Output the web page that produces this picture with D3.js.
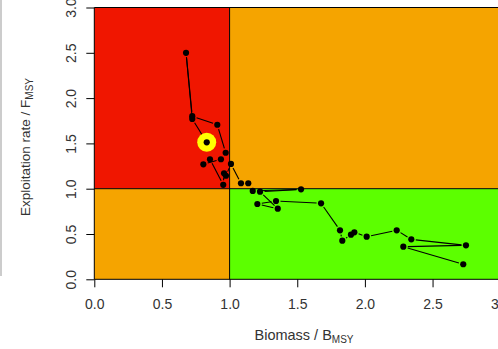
<!DOCTYPE html>
<html>
<head>
<meta charset="utf-8">
<script src="https://cdn.jsdelivr.net/npm/d3@7"></script>
<style>
  body { margin: 0; background: #fff; }
  svg { display: block; }
  text { font-family: "Liberation Sans", Arial, sans-serif; fill: #333; }
</style>
</head>
<body>
<div id="app"></div>
<script>
// trajectory, oldest year first, last one is the current year
const biomass = [2.727, 2.284, 2.747, 2.343, 2.235, 2.013, 1.922, 1.897, 1.833, 1.816,
    1.676, 1.343, 1.205, 1.356, 1.225, 1.528, 1.171, 1.138, 1.084, 1.010,
    0.973, 0.959, 0.953, 0.855, 0.806, 0.936, 0.971, 0.909, 0.724, 0.678,
    0.724, 0.831];
const harvest = [0.166, 0.360, 0.375, 0.441, 0.541, 0.470, 0.519, 0.492, 0.426, 0.541,
    0.839, 0.864, 0.831, 0.779, 0.967, 0.993, 0.975, 1.060, 1.060, 1.273,
    1.143, 1.170, 1.043, 1.325, 1.269, 1.325, 1.397, 1.706, 1.800, 2.500,
    1.770, 1.512];
const xTicks = [0, 0.5, 1, 1.5, 2, 2.5, 3];
const yTicks = [0, 0.5, 1, 1.5, 2, 2.5, 3];
const refB = 1, refF = 1;

const draw = () => {
    const width = 498;
    const height = 349;

    const svg = d3.select('#app')
        .append('svg')
        .attr('width', width)
        .attr('height', height);

    const x = d3.scaleLinear().domain([0, 3]).range([94.3, 500.2]);
    const y = d3.scaleLinear().domain([0, 3]).range([279.3, 7.5]);

    // grey line on the far left
    svg.append('line')
        .attr('x1', 1).attr('x2', 1)
        .attr('y1', 0).attr('y2', 276)
        .attr('stroke', '#999');

    // the four zones
    const zones = [
        { x0: 0, x1: refB, y0: refF, y1: 3, fill: '#f01600' },
        { x0: refB, x1: 3, y0: refF, y1: 3, fill: '#f5a400' },
        { x0: 0, x1: refB, y0: 0, y1: refF, fill: '#f5a400' },
        { x0: refB, x1: 3, y0: 0, y1: refF, fill: '#5cff00' }
    ];
    svg.append('g')
        .selectAll('rect')
        .data(zones)
        .enter()
        .append('rect')
        .attr('x', d => x(d.x0))
        .attr('y', d => y(d.y1))
        .attr('width', d => x(d.x1) - x(d.x0))
        .attr('height', d => y(d.y0) - y(d.y1))
        .attr('fill', d => d.fill);

    // reference lines
    svg.append('line')
        .attr('x1', x(refB)).attr('x2', x(refB))
        .attr('y1', y(0)).attr('y2', y(3))
        .attr('stroke', '#000');
    svg.append('line')
        .attr('x1', x(0)).attr('x2', x(3))
        .attr('y1', y(refF)).attr('y2', y(refF))
        .attr('stroke', '#000');

    // trajectory, R type "b" so lines stop short of the points
    const pts = biomass.map((b, i) => [x(b), y(harvest[i])]);
    const gap = 4.5;
    const segs = d3.pairs(pts).map(([a, b]) => {
        const dx = b[0] - a[0], dy = b[1] - a[1];
        const len = Math.hypot(dx, dy);
        if (len < gap * 2.2) return null;
        const ux = dx / len, uy = dy / len;
        return [a[0] + ux * gap, a[1] + uy * gap, b[0] - ux * gap, b[1] - uy * gap];
    }).filter(d => d);

    svg.append('g')
        .selectAll('line')
        .data(segs)
        .enter()
        .append('line')
        .attr('x1', d => d[0]).attr('y1', d => d[1])
        .attr('x2', d => d[2]).attr('y2', d => d[3])
        .attr('stroke', '#000')
        .attr('stroke-width', 1.1);

    const last = pts[pts.length - 1];
    svg.append('circle')
        .attr('cx', last[0]).attr('cy', last[1])
        .attr('r', 9.5)
        .attr('fill', '#ffff00');

    svg.append('g')
        .selectAll('circle')
        .data(pts)
        .enter()
        .append('circle')
        .attr('cx', d => d[0])
        .attr('cy', d => d[1])
        .attr('r', 3.1)
        .attr('fill', '#000');

    // box (right side is off the page)
    svg.append('path')
        .attr('d', `M${x(3)},${y(3)}H${x(0)}V${y(0)}H${x(3)}`)
        .attr('fill', 'none')
        .attr('stroke', '#000');

    // axes
    const xAxis = svg.append('g')
        .attr('transform', `translate(0,${y(0)})`)
        .call(d3.axisBottom(x).tickValues(xTicks).tickSize(8).tickPadding(12)
            .tickFormat(d3.format('.1f')));
    const yAxis = svg.append('g')
        .attr('transform', `translate(${x(0)},0)`)
        .call(d3.axisLeft(y).tickValues(yTicks).tickSize(8).tickPadding(0)
            .tickFormat(d3.format('.1f')));

    [xAxis, yAxis].forEach(a => {
        a.select('.domain').remove();
        a.selectAll('line').attr('stroke', '#000');
        a.selectAll('text').attr('font-size', 14).attr('fill', '#333')
            .style('font-family', '"Liberation Sans", Arial, sans-serif');
    });

    yAxis.selectAll('text')
        .attr('x', null).attr('dy', null)
        .attr('text-anchor', 'middle')
        .attr('transform', 'translate(-23,0) rotate(-90)')
        .attr('dy', '0.35em');

    // axis titles
    const xt = svg.append('text')
        .attr('x', 304).attr('y', 340)
        .attr('text-anchor', 'middle')
        .attr('font-size', 14.5);
    xt.append('tspan').text('Biomass / B');
    xt.append('tspan').attr('font-size', 10).attr('dy', 3).text('MSY');

    const yt = svg.append('text')
        .attr('transform', 'translate(30,147) rotate(-90)')
        .attr('text-anchor', 'middle')
        .attr('font-size', 13.5);
    yt.append('tspan').text('Exploitation rate / F');
    yt.append('tspan').attr('font-size', 10).attr('dy', 3).text('MSY');
};

draw();
</script>
</body>
</html>
